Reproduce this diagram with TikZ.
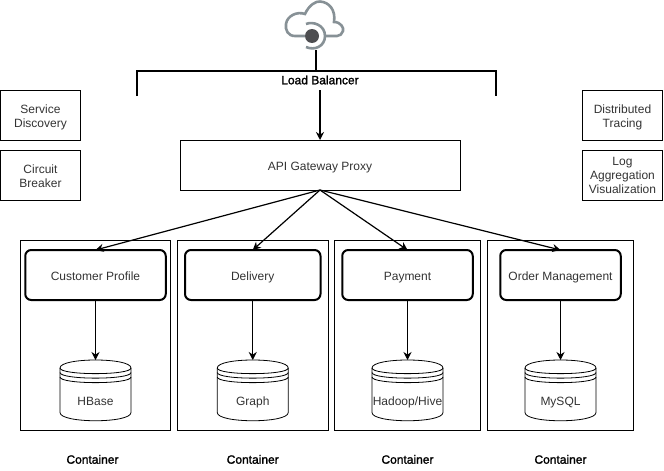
\documentclass[tikz,border=0pt]{standalone}
\usepackage{fontspec}
\setmainfont{Liberation Sans}
\newfontfamily\heavyfont[FakeBold=1.6]{Liberation Sans}
\usetikzlibrary{positioning, arrows.meta}
\definecolor{textgray}{HTML}{333333}
\definecolor{cloudgray}{HTML}{879196}
\definecolor{dotgray}{HTML}{4D4D50}
\tikzset{
    every node/.style={font=\fontsize{12}{14}\selectfont, text=textgray, align=center, inner sep=0pt, outer sep=0pt},
    sidebox/.style={draw=black, line width=1pt, minimum width=80pt, minimum height=50pt},
    ctrbox/.style={draw=black, line width=1pt, minimum height=190pt},
    svcbox/.style={draw=black, line width=2pt, rounded corners=6pt, minimum height=50pt, text height=12pt, text depth=2pt},
    store/.style={minimum width=71pt, minimum height=61pt, text height=32pt, text depth=3pt},
    ctrlabel/.style={font=\heavyfont\fontsize{12}{14}\selectfont, text=black},
    thin arrow/.style={draw=black, line width=0.9pt, -{Stealth[length=8pt, width=8pt]}},
    thick arrow/.style={draw=black, line width=1.4pt, -{Stealth[length=8pt, width=8pt]}},
}
% top ellipse with its two extra rims, body and bottom curve
\newcommand{\datastore}[1]{
    \begin{scope}[shift={(#1.north west)}, draw=black, line width=0.8pt]
        \draw (0,8) .. controls (0,-2.67) and (71,-2.67) .. (71,8)
            -- (71,52.5) .. controls (71,63.5) and (0,63.5) .. (0,52.5) -- cycle;
        \draw (0,8) .. controls (0,15.5) and (71,15.5) .. (71,8);
        \draw (0,12.5) .. controls (0,20) and (71,20) .. (71,12.5);
        \draw (0,17) .. controls (0,24.5) and (71,24.5) .. (71,17);
    \end{scope}
}

\begin{document}
\begin{tikzpicture}[x=1pt, y=-1pt]
    \useasboundingbox (0,0) rectangle (664,471);
    % cloud icon
    \node[circle, fill=dotgray, minimum size=14pt] (cloud) at (312,36) {};
    \begin{scope}[shift={(cloud.center)}, draw=cloudgray, line width=2.6pt]
        \draw (-7,0) -- (-17,0)
            .. controls (-24,0) and (-27,-6) .. (-26,-12)
            .. controls (-25,-20) and (-15,-25) .. (-7,-22)
            .. controls (-3,-31) and (4,-35) .. (8,-34.5)
            .. controls (17,-34) and (24,-26) .. (22,-14)
            .. controls (29,-14) and (32,-8) .. (31,-5)
            .. controls (30,-2) and (28,0) .. (25,0) -- (13,0);
        \draw (-6,-12) .. controls (1,-15) and (13,-11) .. (13,0)
            .. controls (13,10) and (3,15) .. (-6,11);
    \end{scope}
    % load balancer bracket
    \coordinate (cloudfoot) at (315.5,50);
    \coordinate (lbtop) at (315.5,71);
    \coordinate (lbleft) at (137,71);
    \coordinate (lbright) at (496,71);
    \coordinate (lbleftend) at (137,96);
    \coordinate (lbrightend) at (496,96);
    \node[ctrlabel, minimum height=20pt] (lb) at (320,80) {Load Balancer};
    \draw[line width=2pt] (cloudfoot) -- (lbtop);
    \draw[line width=2pt] (lbleftend) -- (lbleft) -- (lbright) -- (lbrightend);
    % gateway and side boxes
    \node[draw=black, line width=1pt, minimum width=280pt, minimum height=50pt, text height=12pt, text depth=2pt] (gateway) at (320,165) {API Gateway Proxy};
    \node[sidebox] (discovery) at (40.5,115) {\rule{0pt}{13pt}Service\\Discovery};
    \node[sidebox, below=10pt of discovery] (breaker) {\rule{0pt}{11pt}Circuit\\Breaker};
    \node[sidebox] (tracing) at (622.5,115) {\rule{0pt}{13pt}Distributed\\Tracing};
    \node[sidebox, below=10pt of tracing] (logging) {Log\\Aggregation\\Visualization};
    % containers
    \node[ctrbox, minimum width=150pt] (ctr1) at (95.5,335) {};
    \node[ctrbox, minimum width=150.5pt, right=7pt of ctr1] (ctr2) {};
    \node[ctrbox, minimum width=146pt, right=6.5pt of ctr2] (ctr3) {};
    \node[ctrbox, minimum width=146pt, right=7pt of ctr3] (ctr4) {};
    % services
    \node[svcbox, minimum width=140.5pt, below=10pt of ctr1.north] (svc1) {Customer Profile};
    \node[svcbox, minimum width=135.5pt, below=10pt of ctr2.north] (svc2) {Delivery};
    \node[svcbox, minimum width=130.5pt, below=10pt of ctr3.north] (svc3) {Payment};
    \node[svcbox, minimum width=120.5pt, below=10pt of ctr4.north] (svc4) {Order Management};
    % stores
    \node[store, above=9pt of ctr1.south] (db1) {HBase};
    \node[store, above=9pt of ctr2.south] (db2) {Graph};
    \node[store, above=9pt of ctr3.south] (db3) {Hadoop/Hive};
    \node[store, above=9pt of ctr4.south] (db4) {MySQL};
    \datastore{db1}
    \datastore{db2}
    \datastore{db3}
    \datastore{db4}
    % container labels
    \node[ctrlabel, below=25pt of ctr1, xshift=-3pt] (lab1) {Container};
    \node[ctrlabel, below=25pt of ctr2] (lab2) {Container};
    \node[ctrlabel, below=25pt of ctr3] (lab3) {Container};
    \node[ctrlabel, below=25pt of ctr4] (lab4) {Container};
    % arrows
    \draw[thick arrow] (lb.south) -- (gateway.north);
    \draw[thin arrow, line width=1.2pt] (gateway.south) -- (svc1.north);
    \draw[thin arrow, line width=1.2pt] (gateway.south) -- (svc2.north);
    \draw[thin arrow, line width=1.2pt] (gateway.south) -- (svc3.north);
    \draw[thin arrow, line width=1.2pt] (gateway.south) -- (svc4.north);
    \draw[thin arrow] (svc1) -- (db1);
    \draw[thin arrow] (svc2) -- (db2);
    \draw[thin arrow] (svc3) -- (db3);
    \draw[thin arrow] (svc4) -- (db4);
\end{tikzpicture}
\end{document}
